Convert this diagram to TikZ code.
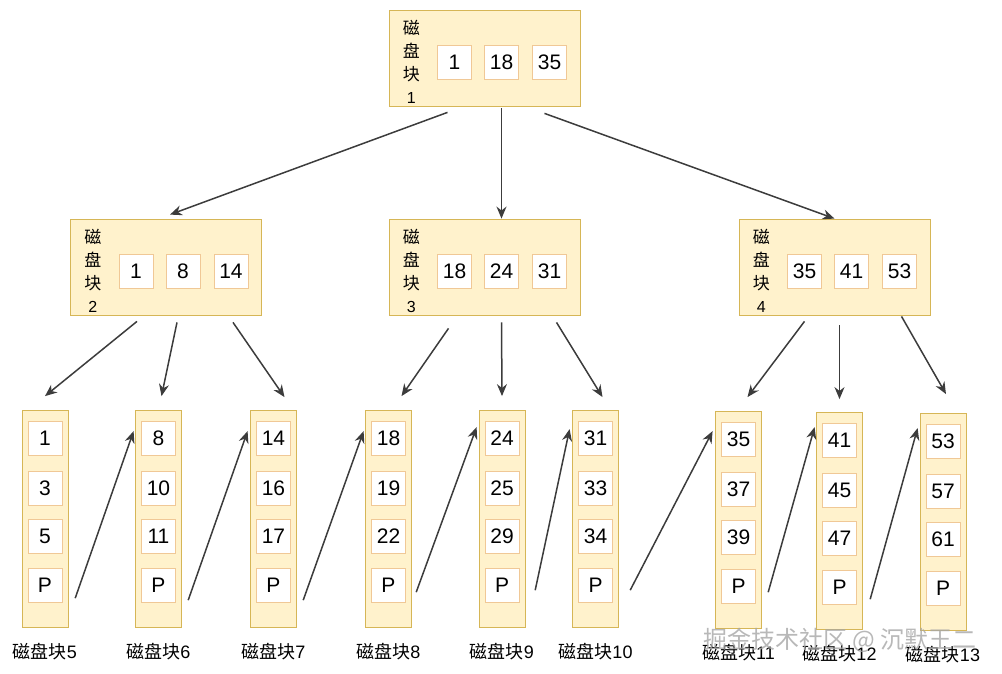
\documentclass[tikz,border=0pt]{standalone}
\usepackage{fontspec}
\setmainfont{Liberation Sans}
\newfontfamily\cjk{Noto Sans CJK SC}
\usetikzlibrary{arrows.meta}
\definecolor{bfill}{RGB}{255,242,204}
\definecolor{bdraw}{RGB}{214,182,86}
\definecolor{kdraw}{RGB}{240,200,150}
\definecolor{adraw}{RGB}{60,60,60}
\begin{document}
\begin{tikzpicture}[x=1pt,y=-1pt,
  blk/.style={draw=bdraw, fill=bfill, line width=0.8pt},
  key/.style={draw=kdraw, fill=white, minimum width=34pt, minimum height=34pt, inner sep=0pt, font=\fontsize{21}{21}\selectfont},
  lbl/.style={font=\cjk\fontsize{17}{23}\selectfont, align=center, inner sep=0pt},
  arr/.style={draw=adraw, line width=1.5pt, -{Stealth[length=12pt,width=10pt]}}]
\useasboundingbox (0,0) rectangle (1002,674);
% internal nodes
\newcommand\inode[6]{%
  \node[blk, minimum width=191pt, minimum height=96pt, inner sep=0pt] (#1) at (#2) {};
  \node[lbl, anchor=west] (#1l) at ([xshift=14pt,yshift=-4pt]#1.west) {磁\\盘\\块\\{\fontsize{16}{16}\selectfont\rmfamily #3}};
  \node[key] (#1a) at ([xshift=-30pt,yshift=-4pt]#1.center) {#4};
  \node[key] (#1b) at ([xshift=17pt,yshift=-4pt]#1.center) {#5};
  \node[key] (#1c) at ([xshift=65pt,yshift=-4pt]#1.center) {#6};}
\inode{n1}{484.5,58}{1}{1}{18}{35}
\inode{n2}{166,267}{2}{1}{8}{14}
\inode{n3}{484.5,267}{3}{18}{24}{31}
\inode{n4}{834.5,267}{4}{35}{41}{53}
% leaves
\newcommand\leaf[6]{%
  \node[blk, minimum width=46pt, minimum height=217pt, inner sep=0pt] (#1) at (#2) {};
  \node[key] (#1a) at ([yshift=81pt]#1.center) {#4};
  \node[key] (#1b) at ([yshift=31pt]#1.center) {#5};
  \node[key] (#1c) at ([yshift=-17pt]#1.center) {#6};
  \node[key] (#1p) at ([yshift=-66pt]#1.center) {P};
  \node[lbl, font=\cjk\fontsize{18}{20}\selectfont] (#1t) at ([yshift=-133pt]#1.center) {磁盘块{\rmfamily #3}};}
\leaf{l5}{45,519}{5}{1}{3}{5}
\leaf{l6}{158.5,519}{6}{8}{10}{11}
\leaf{l7}{273.5,519}{7}{14}{16}{17}
\leaf{l8}{388.5,519}{8}{18}{19}{22}
\leaf{l9}{502,519}{9}{24}{25}{29}
\leaf{l10}{595.5,519}{10}{31}{33}{34}
\leaf{l11}{738.5,520}{11}{35}{37}{39}
\leaf{l12}{839.5,521}{12}{41}{45}{47}
\leaf{l13}{943,522}{13}{53}{57}{61}
% tree arrows
\draw[arr] ([xshift=-37pt,yshift=-6pt]n1.south) -- ([xshift=4pt,yshift=4pt]n2.north);
\draw[arr] ([xshift=17pt,yshift=-2pt]n1.south) -- ([xshift=17pt]n3.north);
\draw[arr] ([xshift=60pt,yshift=-7pt]n1.south) -- (n4.north);
\draw[arr] ([xshift=-29pt,yshift=-6pt]n2.south) -- ([yshift=14pt]l5.north);
\draw[arr] ([xshift=11pt,yshift=-7pt]n2.south) -- ([xshift=3pt,yshift=14pt]l6.north);
\draw[arr] ([xshift=67pt,yshift=-7pt]n2.south) -- ([xshift=11pt,yshift=13pt]l7.north);
\draw[arr] ([xshift=-36pt,yshift=-13pt]n3.south) -- ([xshift=13pt,yshift=14pt]l8.north);
\draw[arr] ([xshift=17pt,yshift=-7pt]n3.south) -- ([yshift=14pt]l9.north);
\draw[arr] ([xshift=72pt,yshift=-7pt]n3.south) -- ([xshift=7pt,yshift=13pt]l10.north);
\draw[arr] ([xshift=-30pt,yshift=-6pt]n4.south) -- ([xshift=9pt,yshift=14pt]l11.north);
\draw[arr] ([xshift=5pt,yshift=-10pt]n4.south) -- ([xshift=0pt,yshift=13pt]l12.north);
\draw[arr] ([xshift=67pt,yshift=-1pt]n4.south) -- ([xshift=3pt,yshift=19pt]l13.north);
% leaf links
\draw[arr] ([xshift=13pt,yshift=4pt]l5p.south east) -- ([xshift=-1.5pt,yshift=-21pt]l6.north west);
\draw[arr] ([xshift=12.5pt,yshift=2pt]l6p.south east) -- ([xshift=-2.5pt,yshift=-21pt]l7.north west);
\draw[arr] ([xshift=12.5pt,yshift=2pt]l7p.south east) -- ([xshift=-1.5pt,yshift=-21pt]l8.north west);
\draw[arr] ([xshift=10.5pt,yshift=10pt]l8p.south east) -- ([xshift=-2pt,yshift=-17pt]l9.north west);
\draw[arr] ([xshift=16pt,yshift=12pt]l9p.south east) -- ([xshift=-2.5pt,yshift=-19pt]l10.north west);
\draw[arr] ([xshift=17.5pt,yshift=12pt]l10p.south east) -- ([xshift=-2.5pt,yshift=-20pt]l11.north west);
\draw[arr] ([xshift=12.5pt,yshift=11pt]l11p.south east) -- ([xshift=-1.5pt,yshift=-15pt]l12.north west);
\draw[arr] ([xshift=13.5pt,yshift=5pt]l12p.south east) -- ([xshift=-2pt,yshift=-15pt]l13.north west);
% watermark
\node[font=\cjk\fontsize{24}{24}\selectfont, text=gray!70, opacity=0.8] (wm) at (840,640) {掘金技术社区 @ 沉默王二};
\end{tikzpicture}
\end{document}
